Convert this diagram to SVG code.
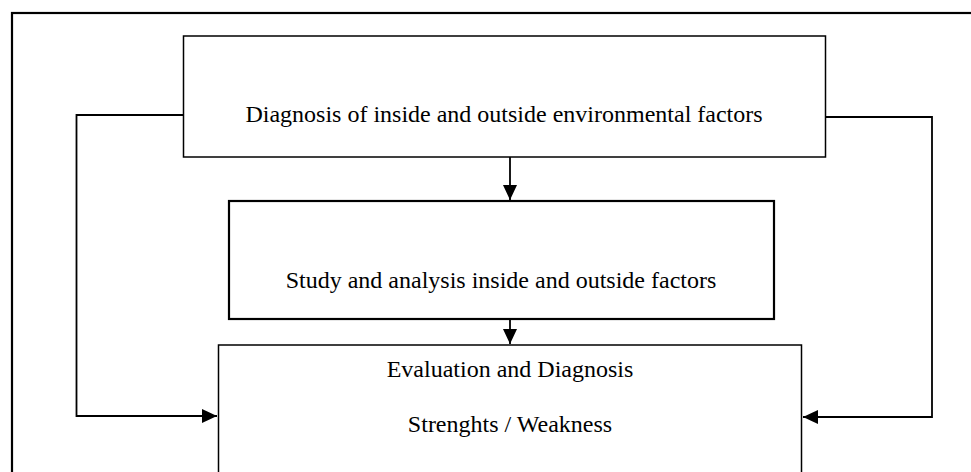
<svg xmlns="http://www.w3.org/2000/svg" width="971" height="472" viewBox="0 0 971 472">
<style>
.box{fill:#fff;stroke:#000;stroke-width:1.5}
.thick{stroke-width:2.2}
.lbl{font-family:"Liberation Serif","Times New Roman",serif;font-size:24px;fill:#000;text-anchor:middle}
.con{fill:none;stroke:#000;stroke-width:1.8}
</style>
<defs>
<marker id="ah" viewBox="0 0 10 10" refX="10" refY="5" markerWidth="15" markerHeight="14" markerUnits="userSpaceOnUse" orient="auto" preserveAspectRatio="none">
<path d="M0,0 L10,5 L0,10 z" fill="#000"/>
</marker>
</defs>
<rect x="12" y="13" width="970" height="470" fill="#fff" stroke="#000" stroke-width="2.2"/>
<g id="n1">
<rect class="box" x="183.5" y="36" width="642" height="121"/>
<text class="lbl" x="504" y="122">Diagnosis of inside and outside environmental factors</text>
</g>
<g id="n2">
<rect class="box thick" x="229" y="201" width="545" height="118"/>
<text class="lbl" x="501" y="288">Study and analysis inside and outside factors</text>
</g>
<g id="n3">
<rect class="box" x="218.5" y="345" width="583" height="140"/>
<text class="lbl" x="510" y="377">Evaluation and Diagnosis</text>
<text class="lbl" x="510" y="432">Strenghts / Weakness</text>
</g>
<g id="connectors">
<path class="con" d="M510,157 V200" marker-end="url(#ah)"/>
<path class="con" d="M510,319 V344" marker-end="url(#ah)"/>
<path class="con" d="M183,115 H76.5 V416 H217" marker-end="url(#ah)"/>
<path class="con" d="M825,117 H932 V417 H803" marker-end="url(#ah)"/>
</g>
</svg>
